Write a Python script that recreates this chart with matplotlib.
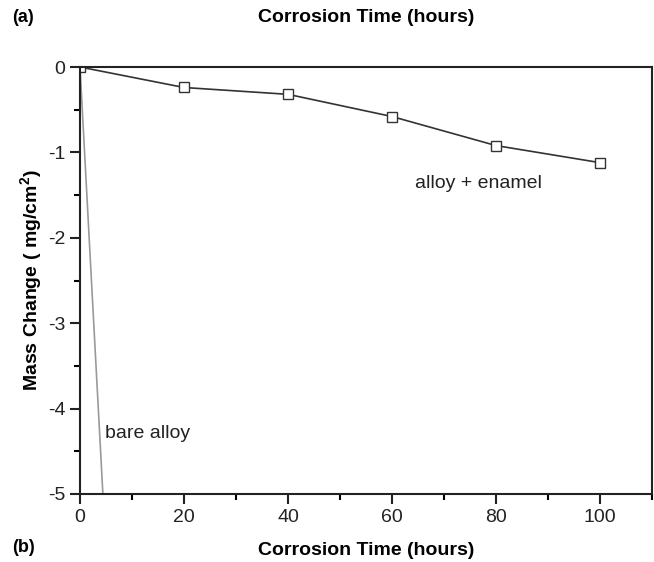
import matplotlib.pyplot as plt
from matplotlib.ticker import MultipleLocator

plt.rcParams['font.family'] = ['Liberation Sans', 'DejaVu Sans']
plt.rcParams['axes.unicode_minus'] = False

# alloy + enamel
enamel_t = [0, 20, 40, 60, 80, 100]
enamel_m = [0.0, -0.24, -0.32, -0.58, -0.92, -1.12]

# bare alloy
bare_t = [0, 4.4]
bare_m = [0.0, -5.0]

fig = plt.figure(figsize=(6.54, 5.62), dpi=100)
ax = fig.add_axes([80/654, 1 - 494/562, 572/654, (494 - 67)/562])

ax.plot(bare_t, bare_m, color='#999999', linewidth=1.2, clip_on=True)
ax.plot(enamel_t, enamel_m, color='#333333', linewidth=1.2,
        marker='s', markersize=7, markerfacecolor='white',
        markeredgecolor='#333333', markeredgewidth=1.0)

ax.set_xlim(0, 110)
ax.set_ylim(-5, 0)
ax.xaxis.set_major_locator(MultipleLocator(20))
ax.xaxis.set_minor_locator(MultipleLocator(10))
ax.yaxis.set_major_locator(MultipleLocator(1))
ax.yaxis.set_minor_locator(MultipleLocator(0.5))
ax.tick_params(which='major', direction='out', length=7, width=1.5,
               labelsize=14, colors='#222222')
ax.tick_params(which='minor', direction='out', length=4, width=1.5)
ax.tick_params(axis='both', which='both', top=False, right=False)
for s in ax.spines.values():
    s.set_linewidth(1.5)
    s.set_color('#222222')

ax.set_ylabel('Mass Change ( mg/cm$^\\mathregular{2}$)', fontsize=14,
              fontweight='bold', labelpad=2)
ax.set_xlabel('Corrosion Time (hours)', fontsize=14, fontweight='bold', labelpad=12)

ax.text(64.5, -1.36, 'alloy + enamel', fontsize=14, color='#222222', va='center')
ax.text(4.8, -4.29, 'bare alloy', fontsize=14, color='#222222', va='center')

fig.text(12/654, 1 - 18/562, '(a)', fontsize=13, fontweight='bold', va='center')
fig.text(366/654, 1 - 18/562, 'Corrosion Time (hours)', fontsize=14,
         fontweight='bold', va='center', ha='center')
fig.text(12/654, 1 - 548/562, '(b)', fontsize=13, fontweight='bold', va='center')

fig.savefig('out.png', dpi=100)
